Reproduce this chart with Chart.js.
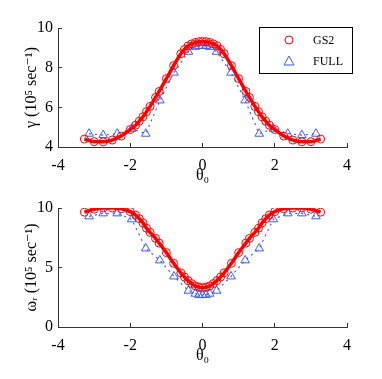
<!DOCTYPE html>
<html>
<head>
<meta charset="utf-8">
<script src="https://cdn.jsdelivr.net/npm/chart.js@4"></script>
<style>
  body { margin: 0; background: #fff; width: 382px; height: 379px; position: relative; overflow: hidden; }
  canvas { position: absolute; left: 0; }
  #gammaChart { top: 0; }
  #omegaChart { top: 180px; }
</style>
</head>
<body>
<canvas id="gammaChart" width="382" height="190"></canvas>
<canvas id="omegaChart" width="382" height="190"></canvas>
<script>
const thetaGS2 = [-3.27, -3.0, -2.75, -2.5, -2.25, -2.0, -1.85, -1.75, -1.65, -1.55, -1.45, -1.3, -1.2, -1.0, -0.8, -0.6, -0.5, -0.4, -0.3, -0.2, -0.1, 0,
                  0.1, 0.2, 0.3, 0.4, 0.5, 0.6, 0.8, 1.0, 1.2, 1.3, 1.45, 1.55, 1.65, 1.75, 1.85, 2.0, 2.25, 2.5, 2.75, 3.0, 3.27];
const gammaGS2 = [4.40, 4.27, 4.26, 4.35, 4.55, 4.88, 5.1, 5.3, 5.52, 5.78, 6.05, 6.5, 6.8, 7.45, 8.1, 8.7, 8.92, 9.1, 9.2, 9.27, 9.31, 9.32,
                  9.31, 9.27, 9.2, 9.1, 8.92, 8.7, 8.1, 7.45, 6.8, 6.5, 6.05, 5.78, 5.52, 5.3, 5.1, 4.88, 4.55, 4.35, 4.26, 4.27, 4.40];
const omegaGS2 = [9.65, 9.9, 10.0, 10.0, 9.93, 9.7, 9.4, 9.1, 8.75, 8.3, 7.95, 7.45, 7.05, 6.25, 5.35, 4.55, 4.2, 3.9, 3.65, 3.45, 3.35, 3.3,
                  3.35, 3.45, 3.65, 3.9, 4.2, 4.55, 5.35, 6.25, 7.05, 7.45, 7.95, 8.3, 8.75, 9.1, 9.4, 9.7, 9.93, 10.0, 10.0, 9.9, 9.65];

const thetaFULL = [-3.14, -2.75, -2.36, -1.96, -1.57, -1.18, -0.79, -0.39, -0.2, -0.1, 0, 0.1, 0.2, 0.39, 0.79, 1.18, 1.57, 1.96, 2.36, 2.75, 3.14];
const gammaFULL = [4.67, 4.60, 4.67, 4.92, 4.67, 6.35, 7.75, 8.8, 9.05, 9.1, 9.1, 9.1, 9.05, 8.8, 7.75, 6.35, 4.67, 4.92, 4.67, 4.60, 4.67];
const omegaFULL = [9.3, 9.55, 9.55, 9.05, 6.6, 5.6, 4.25, 3.05, 2.8, 2.7, 2.68, 2.7, 2.8, 3.05, 4.25, 5.6, 6.6, 9.05, 9.55, 9.55, 9.3];

const xTicks = [-4, -2, 0, 2, 4];
const gammaTicks = [4, 6, 8, 10];
const omegaTicks = [0, 5, 10];

const RED = '#ff0000';
const BLUE = '#3b5bff';
const AXIS = '#333';
const FONT = "'Liberation Serif', 'DejaVu Serif', serif";

function pts(xs, ys) {
    return xs.map((x, i) => ({ x: x, y: ys[i] }));
}

const legendBox = {
    id: 'legendBox',
    afterDraw(chart, args, opts) {
        if (!opts.show) return;
        const c = chart.ctx;
        c.save();
        c.fillStyle = '#fff';
        c.fillRect(259, 27, 93, 46);
        c.strokeStyle = '#000';
        c.lineWidth = 1;
        c.strokeRect(259.5, 27.5, 93, 46);
        c.strokeStyle = RED;
        c.beginPath();
        c.arc(289, 40, 4, 0, Math.PI * 2);
        c.stroke();
        c.strokeStyle = BLUE;
        c.beginPath();
        c.moveTo(289, 56);
        c.lineTo(294, 65);
        c.lineTo(284, 65);
        c.closePath();
        c.stroke();
        c.fillStyle = '#000';
        c.font = '12px ' + FONT;
        c.textBaseline = 'middle';
        c.fillText('GS2', 313, 41);
        c.fillText('FULL', 313, 62);
        c.restore();
    }
};

function makeChart(id, yVals, yFull, yTicks, yTitle, showLegend) {
    const ctx = document.getElementById(id).getContext('2d');
    return new Chart(ctx, {
        type: 'scatter',
        data: {
            datasets: [{
                label: 'GS2 line',
                data: pts(thetaGS2, yVals),
                showLine: true,
                borderColor: RED,
                borderWidth: 3.5,
                pointRadius: 0,
                cubicInterpolationMode: 'monotone'
            }, {
                label: 'GS2',
                data: pts(thetaGS2, yVals),
                borderColor: RED,
                backgroundColor: 'rgba(0,0,0,0)',
                borderWidth: 1,
                pointRadius: 4,
                pointStyle: 'circle'
            }, {
                label: 'FULL',
                data: pts(thetaFULL, yFull),
                showLine: true,
                borderColor: BLUE,
                backgroundColor: 'rgba(0,0,0,0)',
                borderWidth: 1.2,
                borderDash: [2, 4],
                pointRadius: 5,
                pointStyle: 'triangle',
                pointBorderWidth: 1
            }]
        },
        options: {
            responsive: false,
            animation: false,
            layout: { padding: { top: 28, right: 35, left: 0, bottom: 0 } },
            plugins: {
                legend: { display: false },
                tooltip: { enabled: false },
                legendBox: { show: showLegend }
            },
            scales: {
                x: {
                    type: 'linear',
                    min: -4,
                    max: 4,
                    afterBuildTicks: (s) => { s.ticks = xTicks.map(v => ({ value: v })); },
                    afterFit: (s) => { s.height = 43; },
                    grid: { drawOnChartArea: false, tickLength: -4, color: AXIS },
                    border: { color: AXIS, width: 1 },
                    ticks: { color: '#000', padding: 13, font: { family: FONT, size: 16 } },
                    title: {
                        display: true,
                        text: 'θ₀',
                        color: '#000',
                        padding: { top: 0, bottom: 5 },
                        font: { family: FONT, size: 16 }
                    }
                },
                y: {
                    type: 'linear',
                    min: yTicks[0],
                    max: yTicks[yTicks.length - 1],
                    afterBuildTicks: (s) => { s.ticks = yTicks.map(v => ({ value: v })); },
                    afterFit: (s) => { s.width = 58; },
                    grid: { drawOnChartArea: false, tickLength: -4, color: AXIS },
                    border: { color: AXIS, width: 1 },
                    ticks: { color: '#000', padding: 9, font: { family: FONT, size: 16 } },
                    title: {
                        display: true,
                        text: yTitle,
                        color: '#000',
                        padding: { top: 22, bottom: 0 },
                        font: { family: FONT, size: 16 }
                    }
                }
            }
        },
        plugins: [legendBox]
    });
}

makeChart('gammaChart', gammaGS2, gammaFULL, gammaTicks, 'γ (10⁵ sec⁻¹)', true);
makeChart('omegaChart', omegaGS2, omegaFULL, omegaTicks, 'ωᵣ (10⁵ sec⁻¹)', false);
</script>
</body>
</html>
